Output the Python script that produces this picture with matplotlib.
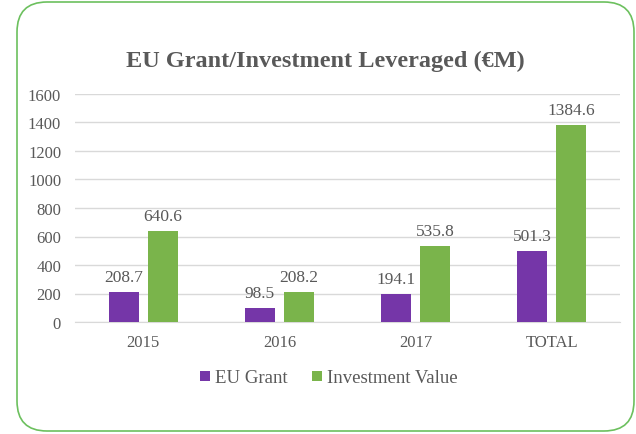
import matplotlib.pyplot as plt
import matplotlib.patches as mpatches
import numpy as np

categories = ['2015', '2016', '2017', 'TOTAL']
eu_grant = [208.7, 98.5, 194.1, 501.3]
investment = [640.6, 208.2, 535.8, 1384.6]
y_ticks = [0, 200, 400, 600, 800, 1000, 1200, 1400, 1600]

purple = '#7536A8'
green = '#7AB44B'
text_gray = '#595959'
plt.rcParams['font.family'] = ['Liberation Serif', 'DejaVu Serif']

fig = plt.figure(figsize=(6.36, 4.35), dpi=100)

# rounded green frame around the whole chart (pixel coords)
frame = mpatches.FancyBboxPatch((17, 3), 617, 429,
                                boxstyle='round,pad=0,rounding_size=30',
                                transform=None, facecolor='none',
                                edgecolor='#6CC05E', linewidth=1.2)
fig.patches.append(frame)

ax = fig.add_axes([75 / 636, 1 - 323 / 435, 545 / 636, 228 / 435])

x = np.arange(len(categories))
w = 0.22
off = 0.143
b1 = ax.bar(x - off, eu_grant, w, color=purple, label='EU Grant', zorder=3)
b2 = ax.bar(x + off, investment, w, color=green, label='Investment Value', zorder=3)

for bars, vals in [(b1, eu_grant), (b2, investment)]:
    for rect, v in zip(bars, vals):
        ax.annotate(f'{v:.1f}', (rect.get_x() + rect.get_width() / 2, v),
                    xytext=(0, 5), textcoords='offset points',
                    ha='center', va='bottom', fontsize=12.5, color=text_gray)

ax.set_xlim(-0.5, len(categories) - 0.5)
ax.set_ylim(0, 1600)
ax.set_yticks(y_ticks)
ax.set_xticks(x)
ax.set_xticklabels(categories)
ax.yaxis.grid(True, color='#D9D9D9', linewidth=1, zorder=0)
ax.set_axisbelow(True)
for s in ['top', 'right', 'left']:
    ax.spines[s].set_visible(False)
ax.spines['bottom'].set_color('#D9D9D9')
ax.tick_params(axis='both', length=0, labelsize=12, colors=text_gray)
ax.tick_params(axis='x', pad=9)
ax.tick_params(axis='y', pad=10)

fig.text(325 / 636, 1 - 61 / 435, 'EU Grant/Investment Leveraged (€M)',
         ha='center', va='center', fontsize=17.5, fontweight='bold', color=text_gray)

fig.legend(loc='center', bbox_to_anchor=(329 / 636, 1 - 379 / 435), ncol=2,
           frameon=False, fontsize=13.5, labelcolor=text_gray,
           handlelength=0.5, handleheight=0.5, handletextpad=0.3, columnspacing=1.3)

plt.savefig('out.png', dpi=100)
